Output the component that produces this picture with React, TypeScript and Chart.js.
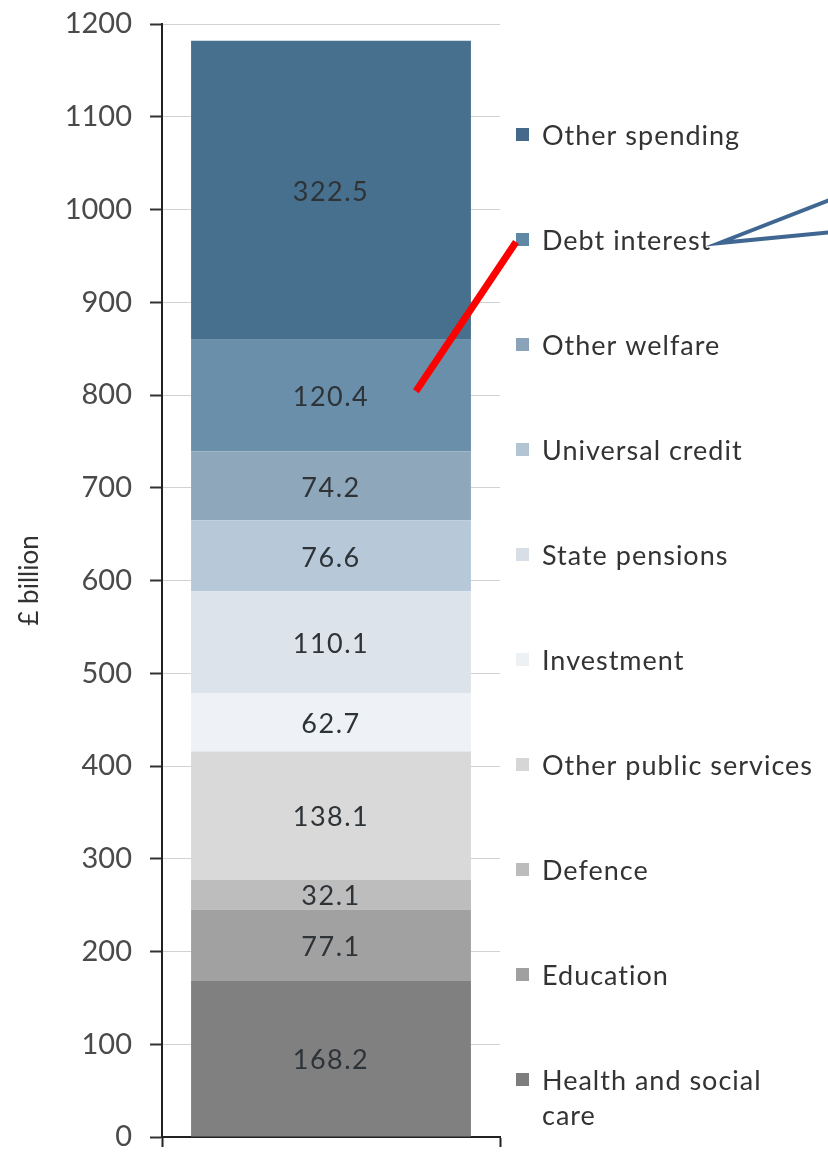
import { useEffect, useRef } from 'react';
import { Chart, registerables } from 'chart.js';

Chart.register(...registerables);

const categories = ['Spending'];
const seriesNames = [
  'Health and social care',
  'Education',
  'Defence',
  'Other public services',
  'Investment',
  'State pensions',
  'Universal credit',
  'Other welfare',
  'Debt interest',
  'Other spending',
];
const legendLines: string[][] = [
  ['Health and social', 'care'],
  ['Education'],
  ['Defence'],
  ['Other public services'],
  ['Investment'],
  ['State pensions'],
  ['Universal credit'],
  ['Other welfare'],
  ['Debt interest'],
  ['Other spending'],
];
const seriesValues = [168.2, 77.1, 32.1, 138.1, 62.7, 110.1, 76.6, 74.2, 120.4, 322.5];
const seriesColors = [
  '#808080',
  '#a1a1a1',
  '#bdbdbd',
  '#d9d9d9',
  '#eef2f6',
  '#dce3eb',
  '#b7c9d8',
  '#8fa7bb',
  '#6a8fab',
  '#47708f',
];
const legendMarkerColors = [
  '#7d7d7d',
  '#a0a0a0',
  '#bcbcbc',
  '#d6d6d6',
  '#eef1f4',
  '#d8dee6',
  '#b3c4d3',
  '#8aa3b8',
  '#5f87a6',
  '#45698a',
];
const yTickValues = [0, 100, 200, 300, 400, 500, 600, 700, 800, 900, 1000, 1100, 1200];
const yAxisTitle = '£ billion';
const highlightValue = 804;

const FONT = 'Lato, "Open Sans", "DejaVu Sans", sans-serif';

const dataLabelPlugin = {
  id: 'dataLabels',
  afterDatasetsDraw(chart: any) {
    const ctx = chart.ctx;
    ctx.save();
    ctx.font = `27px ${FONT}`;
    (ctx as any).letterSpacing = '1.5px';
    ctx.fillStyle = '#2e3338';
    ctx.textAlign = 'center';
    ctx.textBaseline = 'middle';
    chart.data.datasets.forEach((ds: any, i: number) => {
      const meta = chart.getDatasetMeta(i);
      meta.data.forEach((el: any, j: number) => {
        const v = ds.data[j];
        const y = (el.y + el.base) / 2;
        ctx.fillText(v.toFixed(1), el.x, y + 2);
      });
    });
    ctx.restore();
  },
};

const legendPlugin = {
  id: 'sideLegend',
  afterDraw(chart: any) {
    const ctx = chart.ctx;
    const area = chart.chartArea;
    const n = seriesNames.length;
    const firstY = area.top + 111;
    const step = 105;
    const boxX = area.right + 16;
    const textX = area.right + 42;
    ctx.save();
    ctx.font = `27px ${FONT}`;
    (ctx as any).letterSpacing = '1px';
    ctx.textBaseline = 'middle';
    ctx.textAlign = 'left';
    const positions: { y: number; textEnd: number }[] = [];
    for (let k = 0; k < n; k++) {
      const idx = n - 1 - k;
      const y = firstY + k * step;
      ctx.fillStyle = legendMarkerColors[idx];
      ctx.fillRect(boxX, y - 7, 13, 13);
      ctx.fillStyle = '#333333';
      const lines = legendLines[idx];
      let maxW = 0;
      lines.forEach((line, li) => {
        ctx.fillText(line, textX, y + 1 + li * 35);
        maxW = Math.max(maxW, ctx.measureText(line).width);
      });
      positions[idx] = { y, textEnd: textX + maxW };
    }
    (ctx as any).letterSpacing = '0px';
    // red pointer from bar segment to the Debt interest legend marker
    const yScale = chart.scales.y;
    const barMeta = chart.getDatasetMeta(8).data[0];
    const x0 = barMeta.x + barMeta.width / 2 - 55;
    const y0 = yScale.getPixelForValue(highlightValue);
    const debt = positions[8];
    ctx.strokeStyle = '#ff0000';
    ctx.lineWidth = 7;
    ctx.lineCap = 'butt';
    ctx.beginPath();
    ctx.moveTo(x0, y0);
    ctx.lineTo(boxX, debt.y + 2);
    ctx.stroke();
    // blue callout tail
    const tipX = debt.textEnd + 8;
    const tipY = debt.y + 3;
    ctx.strokeStyle = '#3f6791';
    ctx.lineWidth = 4;
    ctx.lineJoin = 'miter';
    ctx.beginPath();
    ctx.moveTo(chart.width + 4, tipY - 44);
    ctx.lineTo(tipX, tipY);
    ctx.lineTo(chart.width + 4, tipY - 11);
    ctx.stroke();
    ctx.restore();
  },
};

export default function App() {
  const ref = useRef<HTMLCanvasElement | null>(null);
  useEffect(() => {
    if (!ref.current) return;
    const chart = new Chart(ref.current, {
      type: 'bar',
      data: {
        labels: categories,
        datasets: seriesNames.map((name, i) => ({
          label: name,
          data: [seriesValues[i]],
          backgroundColor: seriesColors[i],
          borderWidth: 0,
          barPercentage: 0.828,
          categoryPercentage: 1,
        })),
      },
      options: {
        animation: false,
        responsive: false,
        layout: { autoPadding: false, padding: { top: 24, right: 328, bottom: 0, left: 0 } },
        plugins: {
          legend: { display: false },
          tooltip: { enabled: false },
        },
        scales: {
          x: {
            stacked: true,
            offset: true,
            afterFit: (s: any) => {
              s.height = 15;
              s.paddingLeft = 0;
              s.paddingRight = 0;
            },
            ticks: { display: false },
            grid: {
              display: true,
              offset: true,
              drawOnChartArea: false,
              drawTicks: true,
              tickLength: 10,
              tickColor: '#222222',
              tickWidth: 2,
            },
            border: { display: true, color: '#222222', width: 2 },
          },
          y: {
            stacked: true,
            min: 0,
            max: 1200,
            afterFit: (s: any) => {
              s.width = 162;
              s.paddingTop = 0;
              s.paddingBottom = 0;
            },
            afterBuildTicks: (s: any) => {
              s.ticks = yTickValues.map((v) => ({ value: v }));
            },
            ticks: {
              color: '#4a4a4a',
              font: { family: FONT, size: 29 },
              padding: 18,
              callback: (v: any) => String(v),
            },
            grid: {
              color: '#d2d2d2',
              lineWidth: 1,
              tickLength: 12,
              tickColor: '#333333',
              tickWidth: 2,
            },
            border: { display: true, color: '#222222', width: 2 },
            title: {
              display: true,
              text: yAxisTitle,
              color: '#333333',
              font: { family: FONT, size: 26 },
              padding: { top: 14, bottom: 0 },
            },
          },
        },
      },
      plugins: [dataLabelPlugin, legendPlugin],
    });
    return () => chart.destroy();
  }, []);
  return (
    <div style={{ position: 'absolute', left: 0, top: 0, width: 828, height: 1152, background: '#ffffff' }}>
      <canvas ref={ref} width={828} height={1152} style={{ width: 828, height: 1152, display: 'block' }} />
    </div>
  );
}
